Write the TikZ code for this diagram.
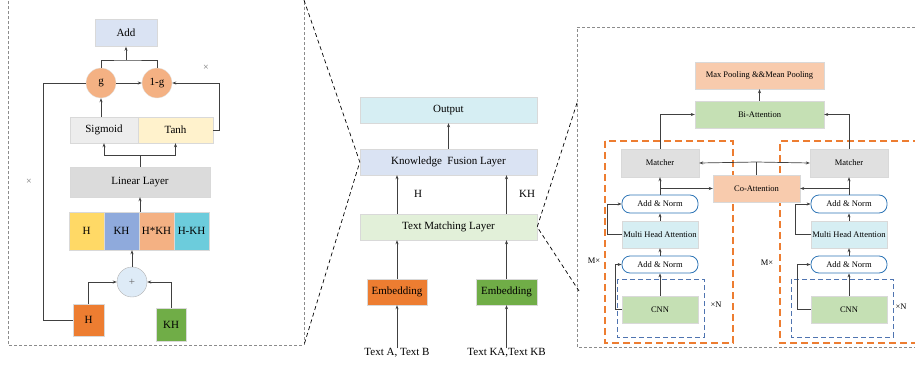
\documentclass[tikz,border=0pt]{standalone}
\usepackage{fontspec}
\setmainfont{Liberation Serif}
\usepackage{xcolor}
\usetikzlibrary{arrows.meta, positioning}

\definecolor{lavender}{HTML}{DAE3F3}
\definecolor{peach}{HTML}{F4B183}
\definecolor{softgray}{HTML}{EDEDED}
\definecolor{cream}{HTML}{FFF2CC}
\definecolor{midgray}{HTML}{DBDBDB}
\definecolor{butter}{HTML}{FFD966}
\definecolor{steel}{HTML}{8FAADC}
\definecolor{aqua}{HTML}{6CCCDC}
\definecolor{ice}{HTML}{DEEBF7}
\definecolor{rust}{HTML}{ED7D31}
\definecolor{leaf}{HTML}{70AD47}
\definecolor{paleaqua}{HTML}{D6EEF3}
\definecolor{palegreen}{HTML}{E2F0D9}
\definecolor{salmon}{HTML}{F8CBAD}
\definecolor{sage}{HTML}{C5E0B4}
\definecolor{matgray}{HTML}{E0E0E0}
\definecolor{navyline}{HTML}{2E75B6}
\definecolor{dashblue}{HTML}{4F74B0}

\begin{document}
\begin{tikzpicture}[
    x=1pt, y=-1pt,
    >={Stealth[length=4pt, width=3pt]},
    box/.style={draw=black!15, rectangle, inner sep=0pt, align=center},
    ring/.style={draw=black!10, circle, inner sep=0pt, minimum size=30pt},
    normbox/.style={draw=navyline, line width=0.8pt, fill=white, rectangle, rounded corners=8pt,
                    inner sep=0pt, minimum width=76pt},
    link/.style={->, draw=black!75, line width=0.7pt},
    bigtext/.style={font=\fontsize{11}{13}\selectfont},
    smalltext/.style={font=\fontsize{8.5}{10}\selectfont},
    times/.style={font=\fontsize{10}{11}\selectfont, text=black!55},
    panel/.style={draw=black!45, line width=0.6pt, dash pattern=on 3pt off 2pt},
    zoomline/.style={draw=black, line width=0.7pt, dash pattern=on 4pt off 3pt},
    block/.style={draw=rust, line width=1.3pt, dash pattern=on 7pt off 4pt},
    stack/.style={draw=dashblue, line width=0.9pt, dash pattern=on 5pt off 3pt}
]
    \useasboundingbox (0,0) rectangle (915,364);

    % --- FRAMES ---
    \draw[panel] (304,-3) -- (304,345) -- (8,345) -- (8,-3);
    \draw[panel] (920,27) -- (577,27) -- (577,347) -- (920,347);

    % --- FUSION GATE (Left) ---
    \begin{scope}[bigtext]
    \node[box, fill=lavender, minimum width=62pt, minimum height=27pt] (add) at (126,33) {Add};
    \node[ring, fill=peach] (g) at (101,83) {g};
    \node[ring, fill=peach] (oneg) at (157,83) {1-g};
    \node[box, fill=softgray, minimum width=68pt, minimum height=26pt] (sig) at (104,130) {Sigmoid};
    \node[box, fill=cream, minimum width=75pt, minimum height=26pt] (tanh) at (175.5,130) {Tanh};
    \node[box, fill=midgray, minimum width=140pt, minimum height=30pt] (lin) at (140,182) {Linear Layer};

    % concatenation
    \node[box, fill=butter, minimum width=35pt, minimum height=38pt] (c1) at (86.5,231) {H};
    \node[box, fill=steel, minimum width=35pt, minimum height=38pt] (c2) at (121.5,231) {KH};
    \node[box, fill=peach, minimum width=35pt, minimum height=38pt] (c3) at (156.5,231) {H*KH};
    \node[box, fill=aqua, minimum width=35pt, minimum height=38pt] (c4) at (191.5,231) {H-KH};

    \node[ring, draw=black!30, fill=ice, text=black!60] (plus) at (132,282) {+};
    \node[box, fill=rust, minimum width=31pt, minimum height=32pt] (hin) at (88.5,320) {H};
    \node[box, fill=leaf, minimum width=30pt, minimum height=33pt] (khin) at (171,324.5) {KH};
    \end{scope}

    \node[times] (x1) at (206,68) {×};
    \node[times] (x2) at (29,182) {×};

    \coordinate (gjoin) at (126,60);
    \coordinate (lsplit) at (140,155);
    \draw[link, -] (g.north) |- (gjoin) -| (oneg.north);
    \draw[link] (gjoin) -- (add.south);
    \draw[link] (g) -- (oneg);
    \draw[link] (g |- sig.north) -- (g.south);
    \draw[link] (tanh.east) -- ++(6,0) |- (oneg.east);
    \draw[link, -] (lin.north) -- (lsplit);
    \draw[link] (lsplit) -| (sig.south);
    \draw[link] (lsplit) -| (tanh.south);
    \draw[link] (lin.south |- c3.north) -- (lin.south);
    \draw[link] (plus.north) -- (plus.north |- c2.south);
    \draw[link] (hin.north) |- (plus.west);
    \draw[link] (khin.north) |- (plus.east);
    \draw[link, -] (hin.west) -- ++(-29,0) |- (g.west);

    % --- MAIN PIPELINE (Middle) ---
    \begin{scope}[bigtext]
    \node[box, fill=paleaqua, minimum width=177pt, minimum height=26pt] (out) at (448.5,110) {Output};
    \node[box, fill=lavender, minimum width=177pt, minimum height=26pt] (kfl) at (448.5,162) {Knowledge\ \ Fusion Layer};
    \node[box, fill=palegreen, minimum width=177pt, minimum height=26pt] (tml) at (448.5,227) {Text Matching Layer};
    \node[box, fill=rust, minimum width=60pt, minimum height=26pt] (emb1) at (397,292) {Embedding};
    \node[box, fill=leaf, minimum width=61pt, minimum height=26pt] (emb2) at (506.5,292) {Embedding};
    \node[inner sep=0pt] (txt1) at (397,353) {Text A, Text B};
    \node[inner sep=0pt] (txt2) at (506.5,353) {Text KA,Text KB};
    \node[inner sep=0pt] (hlab) at (418,194) {H};
    \node[inner sep=0pt] (khlab) at (527,194) {KH};
    \end{scope}

    \draw[link] (kfl.north) -- (out.south);
    \draw[link] (tml.north -| emb1) -- (kfl.south -| emb1);
    \draw[link] (tml.north -| emb2) -- (kfl.south -| emb2);
    \draw[link] (emb1.north) -- (tml.south -| emb1);
    \draw[link] (emb2.north) -- (tml.south -| emb2);
    \draw[link] (txt1.north) -- (emb1.south);
    \draw[link] (txt2.north) -- (emb2.south);

    % zoom lines
    \coordinate (ltop) at (304,0);
    \coordinate (lbot) at (304,345);
    \coordinate (rtop) at (577,103);
    \coordinate (rbot) at (579,291);
    \draw[zoomline] (ltop) -- (kfl.west) -- (lbot);
    \draw[zoomline] (rtop) -- (tml.east) -- (rbot);

    % --- TEXT MATCHING (Right) ---
    \draw[block] (605,141) rectangle (733,343);
    \draw[block] (920,141) -- (780,141) -- (780,343) -- (920,343);
    \draw[stack] (617,279) rectangle (704,337);
    \draw[stack] (791,279) rectangle (893,337);

    \begin{scope}[smalltext]
    \node[box, fill=salmon, minimum width=129pt, minimum height=27pt] (pool) at (759.5,75.5) {Max Pooling \&\&Mean Pooling};
    \node[box, fill=sage, minimum width=129pt, minimum height=27pt] (biatt) at (759.5,114.5) {Bi-Attention};
    \node[box, fill=matgray, minimum width=78pt, minimum height=28pt] (mat1) at (660,163) {Matcher};
    \node[box, fill=matgray, minimum width=78pt, minimum height=28pt] (mat2) at (849,163) {Matcher};
    \node[box, fill=salmon, minimum width=87pt, minimum height=27pt] (coatt) at (756.5,188.5) {Co-Attention};

    \node[normbox, minimum height=18pt] (an1a) at (660,204) {Add \& Norm};
    \node[box, fill=paleaqua, minimum width=76pt, minimum height=27pt] (mha1) at (660,234.5) {Multi Head Attention};
    \node[normbox, minimum height=17pt] (an1b) at (660,264.5) {Add \& Norm};
    \node[box, fill=sage, minimum width=76pt, minimum height=27pt] (cnn1) at (660,309.5) {CNN};

    \node[normbox, minimum height=18pt] (an2a) at (849,204) {Add \& Norm};
    \node[box, fill=paleaqua, minimum width=76pt, minimum height=27pt] (mha2) at (849,234.5) {Multi Head Attention};
    \node[normbox, minimum height=17pt] (an2b) at (849,264.5) {Add \& Norm};
    \node[box, fill=sage, minimum width=76pt, minimum height=27pt] (cnn2) at (849,309.5) {CNN};

    \node[inner sep=0pt] (n1) at (716,305) {×N};
    \node[inner sep=0pt] (n2) at (901,307) {×N};
    \node[inner sep=0pt] (m1) at (594,261) {M×};
    \node[inner sep=0pt] (m2) at (767,263) {M×};
    \end{scope}

    \draw[link] (biatt.north) -- (pool.south);
    \draw[link] (mat1.north) |- (biatt.west);
    \draw[link] (mat2.north) |- (biatt.east);
    \coordinate (cajoin) at (756.5,162);
    \draw[link, -] (coatt.north) -- (cajoin);
    \draw[link] (cajoin) -- (mat1.east);
    \draw[link] (cajoin) -- (mat2.west);

    \draw[link] (an1a.north) -- (mat1.south);
    \draw[link] (an1a.north |- coatt.west) -- (coatt.west);
    \draw[link] (mha1.north) -- (an1a.south);
    \draw[link] (an1b.north) -- (mha1.south);
    \draw[link] (cnn1.north) -- (an1b.south);
    \draw[link] (mha1.west) -- ++(-14,0) |- (an1a.west);
    \draw[link] (cnn1.west) -- ++(-6,0) |- (an1b.west);

    \draw[link] (an2a.north) -- (mat2.south);
    \draw[link] (an2a.north |- coatt.east) -- (coatt.east);
    \draw[link] (mha2.north) -- (an2a.south);
    \draw[link] (an2b.north) -- (mha2.south);
    \draw[link] (cnn2.north) -- (an2b.south);
    \draw[link] (mha2.west) -- ++(-15,0) |- (an2a.west);
    \draw[link] (cnn2.west) -- ++(-13,0) |- (an2b.west);

\end{tikzpicture}
\end{document}
